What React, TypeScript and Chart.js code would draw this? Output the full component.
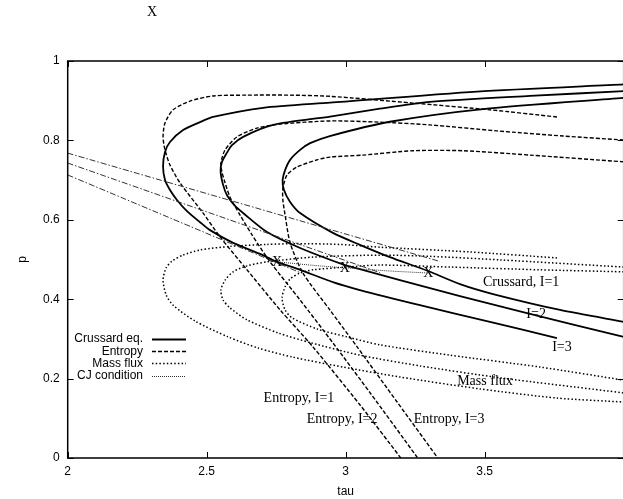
import React, { useEffect, useRef } from 'react';
import { Chart, registerables } from 'chart.js';

Chart.register(...registerables);

type Pt = [number, number];

// ---- data (tau, p) ----
const crussardI1: Pt[] = [
  [4.0, 0.941], [3.472, 0.923], [2.944, 0.895], [2.703, 0.882], [2.523, 0.859], [2.476, 0.846],
  [2.415, 0.826], [2.368, 0.796], [2.350, 0.771], [2.343, 0.735], [2.350, 0.700], [2.368, 0.675],
  [2.393, 0.650], [2.429, 0.622], [2.476, 0.594], [2.512, 0.574], [2.595, 0.542], [2.692, 0.514],
  [2.753, 0.494], [2.836, 0.474], [2.954, 0.443], [3.051, 0.423], [3.267, 0.385], [3.519, 0.343],
  [3.760, 0.302],
];
const crussardI2: Pt[] = [
  [4.0, 0.924], [3.663, 0.912], [3.303, 0.897], [3.123, 0.880], [2.944, 0.860], [2.739, 0.839],
  [2.631, 0.809], [2.591, 0.788], [2.572, 0.768], [2.555, 0.746], [2.550, 0.721], [2.559, 0.688],
  [2.573, 0.662], [2.602, 0.635], [2.631, 0.617], [2.717, 0.569], [2.836, 0.529], [2.997, 0.486],
  [3.051, 0.476], [3.195, 0.448], [3.411, 0.408], [3.652, 0.365], [4.0, 0.305],
];
const crussardI3: Pt[] = [
  [4.0, 0.907], [3.494, 0.879], [3.159, 0.847], [2.943, 0.811], [2.872, 0.793], [2.836, 0.776],
  [2.800, 0.751], [2.782, 0.725], [2.773, 0.700], [2.778, 0.675], [2.800, 0.645], [2.836, 0.617],
  [2.954, 0.567], [3.051, 0.537], [3.159, 0.506], [3.296, 0.471], [3.411, 0.438], [3.530, 0.413],
  [3.771, 0.373], [4.0, 0.343],
];

const entropyI1: Pt[] = [
  [3.760, 0.859], [3.519, 0.877], [3.242, 0.894], [2.944, 0.911], [2.800, 0.914], [2.645, 0.914],
  [2.523, 0.912], [2.440, 0.899], [2.379, 0.877], [2.350, 0.844], [2.343, 0.809], [2.350, 0.776],
  [2.368, 0.738], [2.404, 0.693], [2.487, 0.617], [2.548, 0.557], [2.645, 0.474], [2.764, 0.373],
  [2.882, 0.280], [3.051, 0.134], [3.195, 0.003], [3.202, -0.005],
];
const entropyI2: Pt[] = [
  [4.0, 0.801], [3.782, 0.811], [3.544, 0.824], [3.303, 0.839], [3.123, 0.846], [2.943, 0.849],
  [2.764, 0.841], [2.681, 0.831], [2.609, 0.809], [2.566, 0.776], [2.551, 0.743], [2.555, 0.720],
  [2.563, 0.700], [2.584, 0.657], [2.620, 0.612], [2.663, 0.562], [2.728, 0.494], [2.836, 0.398],
  [2.954, 0.290], [3.088, 0.164], [3.256, 0.003], [3.264, -0.005],
];
const entropyI3: Pt[] = [
  [4.0, 0.746], [3.663, 0.763], [3.422, 0.774], [3.242, 0.774], [3.062, 0.763], [2.943, 0.758],
  [2.897, 0.751], [2.825, 0.733], [2.789, 0.713], [2.774, 0.680], [2.774, 0.650], [2.782, 0.612],
  [2.800, 0.542], [2.846, 0.466], [2.943, 0.373], [3.041, 0.280], [3.185, 0.141], [3.328, 0.003],
  [3.335, -0.005],
];

const massFluxI1: Pt[] = [
  [3.760, 0.504], [3.447, 0.519], [3.123, 0.531], [2.979, 0.538], [2.825, 0.540], [2.717, 0.538],
  [2.584, 0.533], [2.476, 0.524], [2.415, 0.511], [2.375, 0.496], [2.354, 0.479], [2.343, 0.448],
  [2.354, 0.411], [2.379, 0.385], [2.458, 0.345], [2.577, 0.305], [2.685, 0.277], [2.810, 0.254],
  [2.990, 0.229], [3.195, 0.204], [3.483, 0.174], [3.760, 0.151], [4.0, 0.141],
];
const massFluxI2: Pt[] = [
  [4.0, 0.481], [3.555, 0.499], [3.303, 0.508], [3.123, 0.511], [2.882, 0.506], [2.717, 0.494],
  [2.645, 0.484], [2.595, 0.469], [2.566, 0.448], [2.551, 0.423], [2.559, 0.398], [2.584, 0.378],
  [2.645, 0.348], [2.757, 0.315], [2.876, 0.290], [3.051, 0.259], [3.267, 0.232], [3.555, 0.202],
  [4.0, 0.164],
];
const massFluxI3: Pt[] = [
  [4.0, 0.469], [3.700, 0.474], [3.375, 0.481], [3.123, 0.486], [3.005, 0.481], [2.882, 0.474],
  [2.836, 0.466], [2.800, 0.451], [2.782, 0.431], [2.771, 0.403], [2.782, 0.373], [2.807, 0.353],
  [2.897, 0.325], [3.005, 0.305], [3.123, 0.285], [3.375, 0.259], [3.700, 0.229], [4.0, 0.196],
];

const rayleighA: Pt[] = [[2.0, 0.768], [3.339, 0.495]];
const rayleighB: Pt[] = [[2.0, 0.743], [3.123, 0.467]];
const rayleighC: Pt[] = [[2.0, 0.713], [2.836, 0.467]];

const cjCondition: Pt[] = [[2.728, 0.496], [2.872, 0.486], [2.997, 0.479], [3.159, 0.471], [3.296, 0.466]];

const xTickValues = [2, 2.5, 3, 3.5, 4];
const yTickValues = [0, 0.2, 0.4, 0.6, 0.8, 1];

const legendLabels = ['Crussard eq.', 'Entropy', 'Mass flux', 'CJ condition'];

const noteTexts = ['Crussard, I=1', 'I=2', 'I=3', 'Mass flux', 'Entropy, I=1', 'Entropy, I=2', 'Entropy, I=3', 'X', 'X', 'X'];
const noteTau = [3.631, 3.685, 3.778, 3.501, 2.832, 2.987, 3.372, 2.753, 2.997, 3.297];
const noteP = [0.443, 0.363, 0.280, 0.194, 0.151, 0.098, 0.098, 0.494, 0.479, 0.466];

// ---- styles ----
const SERIF = '"Liberation Serif", "Times New Roman", serif';
const SANS = '"Liberation Sans", Arial, sans-serif';
const solid: number[] = [];
const dashed = [4, 2];
const dotted = [1.5, 2.2];
const fine = [1, 1];
const dashDot = [6, 2, 1.5, 2];

const toXY = (pts: Pt[]) => pts.map(([x, y]) => ({ x, y }));

const mk = (label: string, pts: Pt[], dash: number[], width: number, color = '#000') => ({
  label,
  data: toXY(pts),
  showLine: true,
  borderColor: color,
  backgroundColor: color,
  borderWidth: width,
  borderDash: dash,
  pointRadius: 0,
  pointHoverRadius: 0,
  tension: 0.25,
  fill: false,
  clip: 0,
});

const framePlugin = {
  id: 'frame',
  afterDatasetsDraw(chart: any) {
    const { ctx, chartArea: a, scales } = chart;
    const xs = scales.x;
    const ys = scales.y;
    ctx.save();
    // notes
    ctx.fillStyle = '#000';
    ctx.font = `14px ${SERIF}`;
    ctx.textAlign = 'center';
    ctx.textBaseline = 'middle';
    noteTexts.forEach((t, i) => {
      ctx.fillText(t, xs.getPixelForValue(noteTau[i]), ys.getPixelForValue(noteP[i]));
    });
    // frame
    ctx.strokeStyle = '#000';
    ctx.lineWidth = 1.5;
    ctx.setLineDash([]);
    ctx.strokeRect(a.left, a.top, a.right - a.left, a.bottom - a.top);
    ctx.lineWidth = 1;
    const tl = 6;
    ctx.beginPath();
    xTickValues.forEach((v) => {
      const px = Math.round(xs.getPixelForValue(v)) + 0.5;
      ctx.moveTo(px, a.bottom); ctx.lineTo(px, a.bottom - tl);
      ctx.moveTo(px, a.top); ctx.lineTo(px, a.top + tl);
    });
    yTickValues.forEach((v) => {
      const py = Math.round(ys.getPixelForValue(v)) + 0.5;
      ctx.moveTo(a.left, py); ctx.lineTo(a.left + tl, py);
      ctx.moveTo(a.right, py); ctx.lineTo(a.right - tl, py);
    });
    ctx.stroke();
    // legend
    const styles = [
      { dash: solid, w: 1.8 },
      { dash: dashed, w: 1.4 },
      { dash: dotted, w: 1.5 },
      { dash: fine, w: 1 },
    ];
    ctx.font = `12px ${SANS}`;
    ctx.textAlign = 'right';
    legendLabels.forEach((t, i) => {
      const y = 339 + i * 12.2;
      ctx.fillStyle = '#000';
      ctx.fillText(t, 143, y);
      ctx.beginPath();
      ctx.setLineDash(styles[i].dash);
      ctx.lineWidth = styles[i].w;
      ctx.strokeStyle = i === 3 ? '#333' : '#000';
      ctx.moveTo(152, Math.round(y) + 0.5);
      ctx.lineTo(186, Math.round(y) + 0.5);
      ctx.stroke();
    });
    ctx.setLineDash([]);
    // stray title label
    ctx.font = `14px ${SERIF}`;
    ctx.textAlign = 'center';
    ctx.fillStyle = '#000';
    ctx.fillText('X', 152, 12);
    ctx.restore();
  },
};

export default function App() {
  const ref = useRef<HTMLCanvasElement | null>(null);
  useEffect(() => {
    document.body.style.overflow = 'hidden';
    document.documentElement.style.overflow = 'hidden';
    const canvas = ref.current!;
    const chart = new Chart(canvas, {
      type: 'scatter',
      data: {
        datasets: [
          mk('Rayleigh A', rayleighA, dashDot, 1, '#333'),
          mk('Rayleigh B', rayleighB, dashDot, 1, '#333'),
          mk('Rayleigh C', rayleighC, dashDot, 1, '#333'),
          mk('Mass flux I=1', massFluxI1, dotted, 1.5),
          mk('Mass flux I=2', massFluxI2, dotted, 1.5),
          mk('Mass flux I=3', massFluxI3, dotted, 1.5),
          mk('CJ condition', cjCondition, fine, 1, '#333'),
          mk('Entropy I=1', entropyI1, dashed, 1.4),
          mk('Entropy I=2', entropyI2, dashed, 1.4),
          mk('Entropy I=3', entropyI3, dashed, 1.4),
          mk('Crussard I=1', crussardI1, solid, 1.8),
          mk('Crussard I=2', crussardI2, solid, 1.8),
          mk('Crussard I=3', crussardI3, solid, 1.8),
        ],
      },
      options: {
        responsive: false,
        animation: false,
        devicePixelRatio: 1,
        layout: { padding: { top: 61, right: 16.3, left: 0, bottom: 0 } },
        plugins: { legend: { display: false }, tooltip: { enabled: false }, title: { display: false } },
        events: [],
        scales: {
          x: {
            type: 'linear',
            min: 2,
            max: 4,
            afterBuildTicks: (s: any) => { s.ticks = xTickValues.map((v) => ({ value: v })); },
            afterFit: (s: any) => { s.height = 41; },
            grid: { display: false, drawTicks: false },
            border: { display: false },
            ticks: {
              padding: 6,
              color: '#000',
              font: { family: SANS, size: 12 },
              maxRotation: 0,
              autoSkip: false,
              callback: (v: any) => (v === 4 ? '' : String(v)),
            },
            title: { display: true, text: 'tau', color: '#000', font: { family: SANS, size: 12 }, padding: { top: 0, bottom: 0 } },
          },
          y: {
            type: 'linear',
            min: 0,
            max: 1,
            afterBuildTicks: (s: any) => { s.ticks = yTickValues.map((v) => ({ value: v })); },
            afterFit: (s: any) => { s.width = 67.7; },
            grid: { display: false, drawTicks: false },
            border: { display: false },
            ticks: {
              padding: 8,
              color: '#000',
              font: { family: SANS, size: 12 },
              autoSkip: false,
              callback: (v: any) => String(Math.round(Number(v) * 10) / 10),
            },
            title: { display: true, text: 'p', color: '#000', font: { family: SANS, size: 12 }, padding: { top: 15, bottom: 0 } },
          },
        },
      },
      plugins: [framePlugin],
    } as any);
    return () => chart.destroy();
  }, []);
  return (
    <canvas
      ref={ref}
      width={640}
      height={499}
      style={{ position: 'fixed', left: 0, top: 0, width: '640px', height: '499px', background: '#fff' }}
    />
  );
}
